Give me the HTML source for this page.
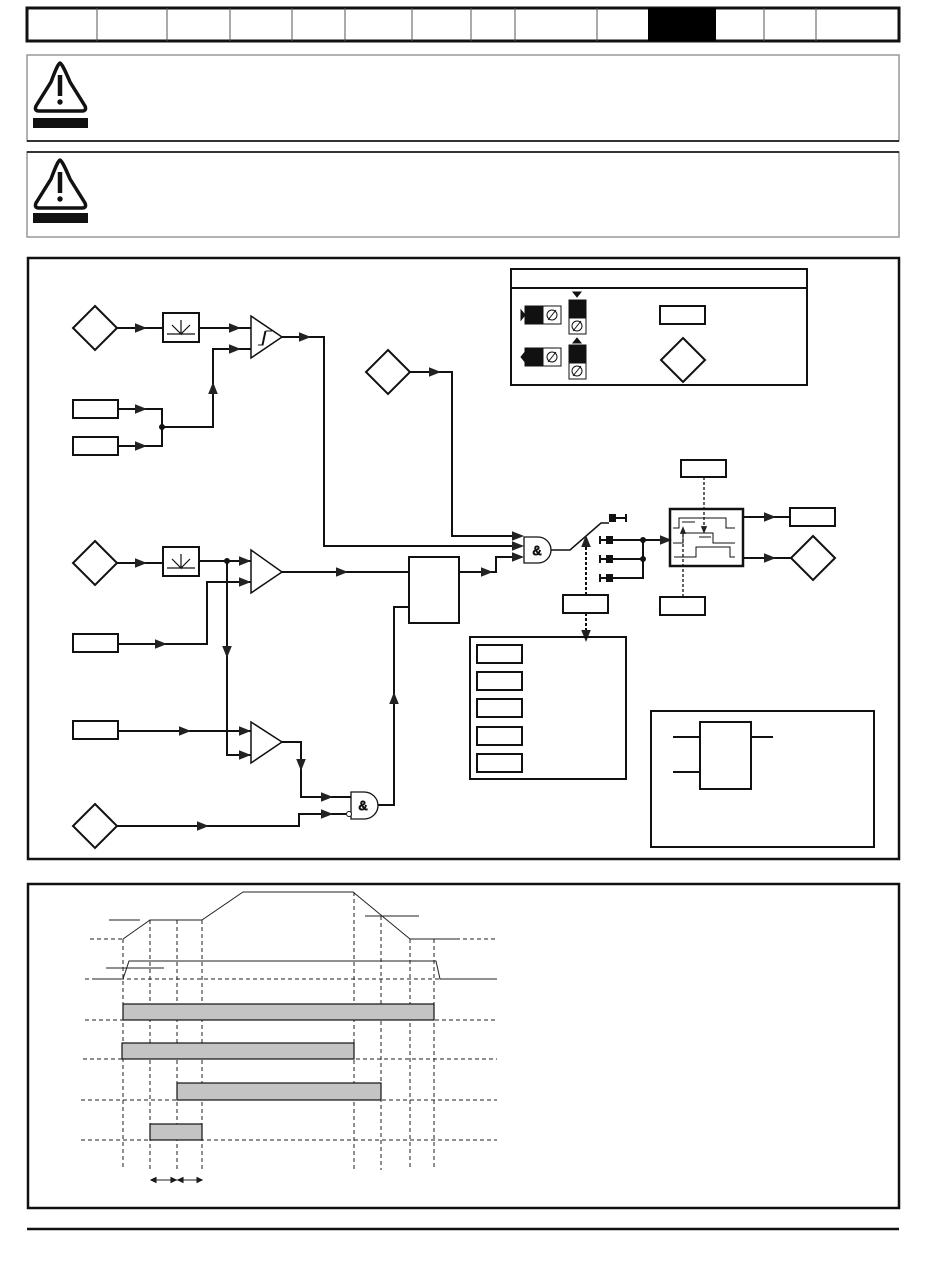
<!DOCTYPE html>
<html><head><meta charset="utf-8"><style>html,body{margin:0;padding:0;background:#fff}svg{display:block}</style></head>
<body>
<svg width="950" height="1274" viewBox="0 0 950 1274" xmlns="http://www.w3.org/2000/svg" font-family="Liberation Sans, sans-serif">
<defs>
<marker id="a" viewBox="0 0 10 10" refX="5" refY="5" markerWidth="6" markerHeight="6" orient="auto"><path d="M0,1 L10,5 L0,9 z" fill="#222"/></marker>
</defs>
<g fill="none" stroke="#111">
<!-- header -->
<rect x="27" y="8" width="872" height="33" stroke-width="3"/>
<rect x="648" y="8" width="68" height="33" fill="#000" stroke="none"/>
<g stroke-width="1" stroke="#555">
<line x1="97" y1="8" x2="97" y2="41"/><line x1="167" y1="8" x2="167" y2="41"/><line x1="230" y1="8" x2="230" y2="41"/><line x1="292" y1="8" x2="292" y2="41"/><line x1="345" y1="8" x2="345" y2="41"/><line x1="412" y1="8" x2="412" y2="41"/><line x1="471" y1="8" x2="471" y2="41"/><line x1="515" y1="8" x2="515" y2="41"/><line x1="597" y1="8" x2="597" y2="41"/><line x1="764" y1="8" x2="764" y2="41"/><line x1="816" y1="8" x2="816" y2="41"/>
</g>
<!-- warnings -->
<rect x="27" y="55" width="872" height="86" stroke="#999" stroke-width="1.5"/>
<line x1="27" y1="141" x2="899" y2="141" stroke="#000" stroke-width="1.5"/>
<rect x="27" y="152" width="872" height="85" stroke="#999" stroke-width="1.5"/>
<line x1="27" y1="152" x2="899" y2="152" stroke="#000" stroke-width="1.5"/>
<g stroke-width="3.5" stroke-linejoin="round">
<path d="M60,63 Q62,63 70,82 L85,106 Q87,111 82,111 L39,111 Q34,111 36,106 L51,82 Q58,63 60,63 Z"/>
<path d="M60,160 Q62,160 70,179 L85,203 Q87,208 82,208 L39,208 Q34,208 36,203 L51,179 Q58,160 60,160 Z"/>
</g>
<rect x="33" y="118" width="55" height="10" fill="#111" stroke="none"/>
<rect x="33" y="213" width="55" height="10" fill="#111" stroke="none"/>
<path d="M60,75 L60,96 M60,172 L60,193" stroke-width="4.5"/>
<circle cx="60" cy="102" r="2.7" fill="#111" stroke="none"/><circle cx="60" cy="199" r="2.7" fill="#111" stroke="none"/>

<!-- main block box -->
<rect x="28" y="258" width="871" height="601" stroke-width="2.5"/>

<g stroke-width="2">
<!-- row 1 -->
<path d="M95,306 L117,328 L95,350 L73,328 Z"/>
<line x1="117" y1="328" x2="163" y2="328"/><line x1="117" y1="328" x2="141" y2="328" marker-end="url(#a)"/>
<rect x="163" y="313" width="36" height="29"/>
<path d="M167,334 L195,334 M181,320 L181,334 L172,325 M181,334 L190,325" stroke-width="1.2"/>
<line x1="199" y1="328" x2="251" y2="328"/><line x1="199" y1="328" x2="235" y2="328" marker-end="url(#a)"/>
<path d="M251,316 L282,337 L251,358 Z" stroke-width="1.5"/>
<path d="M258,345 L263,345 L266,331 L272,331 M262,345 L265,331" stroke-width="1"/>
<path d="M282,337 L324,337 L324,546 L522,546"/><line x1="282" y1="337" x2="305" y2="337" marker-end="url(#a)"/>
<rect x="73" y="400" width="45" height="18"/><rect x="73" y="437" width="45" height="18"/>
<path d="M118,409 L162,409 L162,446 L118,446"/>
<line x1="118" y1="409" x2="141" y2="409" marker-end="url(#a)"/><line x1="118" y1="446" x2="141" y2="446" marker-end="url(#a)"/>
<path d="M162,427 L213,427 L213,349 L251,349"/><line x1="213" y1="400" x2="213" y2="388" marker-end="url(#a)"/><line x1="213" y1="349" x2="235" y2="349" marker-end="url(#a)"/>
<circle cx="162" cy="427" r="2" fill="#111"/>
<path d="M388,350 L410,372 L388,394 L366,372 Z"/>
<path d="M410,372 L452,372 L452,536 L522,536"/><line x1="410" y1="372" x2="435" y2="372" marker-end="url(#a)"/>
<!-- row 2 -->
<path d="M95,541 L117,563 L95,585 L73,563 Z"/>
<line x1="117" y1="563" x2="163" y2="563"/><line x1="117" y1="563" x2="141" y2="563" marker-end="url(#a)"/>
<rect x="163" y="547" width="36" height="29"/>
<path d="M167,568 L195,568 M181,554 L181,568 L172,559 M181,568 L190,559" stroke-width="1.2"/>
<line x1="199" y1="561" x2="251" y2="561"/><line x1="227" y1="561" x2="245" y2="561" marker-end="url(#a)"/>
<circle cx="227" cy="561" r="2" fill="#111"/>
<path d="M251,550 L282,572 L251,593 Z" stroke-width="1.5"/>
<rect x="73" y="634" width="45" height="18"/>
<path d="M118,644 L207,644 L207,582 L251,582"/><line x1="118" y1="644" x2="161" y2="644" marker-end="url(#a)"/><line x1="207" y1="582" x2="245" y2="582" marker-end="url(#a)"/>
<path d="M227,561 L227,755 L251,755"/><line x1="227" y1="600" x2="227" y2="652" marker-end="url(#a)"/><line x1="227" y1="755" x2="245" y2="755" marker-end="url(#a)"/>
<path d="M251,722 L282,742 L251,763 Z" stroke-width="1.5"/>
<rect x="73" y="721" width="45" height="18"/>
<line x1="118" y1="731" x2="251" y2="731"/><line x1="118" y1="731" x2="185" y2="731" marker-end="url(#a)"/><line x1="227" y1="731" x2="245" y2="731" marker-end="url(#a)"/>
<path d="M282,742 L301,742 L301,797 L351,797"/><line x1="301" y1="742" x2="301" y2="765" marker-end="url(#a)"/><line x1="301" y1="797" x2="327" y2="797" marker-end="url(#a)"/>
<path d="M95,804 L117,826 L95,848 L73,826 Z"/>
<path d="M117,826 L299,826 L299,814 L346,814"/><line x1="117" y1="826" x2="203" y2="826" marker-end="url(#a)"/><line x1="299" y1="814" x2="327" y2="814" marker-end="url(#a)"/>
<path d="M351,792 L364,792 A14,13.5 0 0 1 364,819 L351,819 Z" stroke-width="1.3"/>
<circle cx="349" cy="814" r="2.5" stroke-width="1" fill="#fff"/>
<path d="M378,805 L394,805 L394,607 L409,607"/><line x1="394" y1="710" x2="394" y2="698" marker-end="url(#a)"/>
<line x1="282" y1="572" x2="409" y2="572"/><line x1="282" y1="572" x2="342" y2="572" marker-end="url(#a)"/>
<rect x="409" y="557" width="50" height="66"/>
<path d="M459,572 L496,572 L496,557 L522,557"/><line x1="459" y1="572" x2="487" y2="572" marker-end="url(#a)"/>
<line x1="500" y1="536" x2="518" y2="536" marker-end="url(#a)"/><line x1="500" y1="546" x2="518" y2="546" marker-end="url(#a)"/><line x1="500" y1="557" x2="518" y2="557" marker-end="url(#a)"/>
<!-- AND -->
<path d="M524,537 L538,537 A13,13 0 0 1 538,563 L524,563 Z" stroke-width="1.3"/>
<!-- switch -->
<path d="M551,550 L570,550 L601,523 L609,523" stroke-width="1.5"/>
<rect x="609" y="514" width="7" height="8" fill="#111" stroke="none"/>
<line x1="616" y1="518" x2="626" y2="518"/><line x1="626" y1="514" x2="626" y2="522"/>
<line x1="600" y1="536" x2="600" y2="544"/><rect x="606" y="536" width="7" height="8" fill="#111" stroke="none"/>
<line x1="600" y1="555" x2="600" y2="563"/><rect x="606" y="555" width="7" height="8" fill="#111" stroke="none"/>
<line x1="600" y1="574" x2="600" y2="582"/><rect x="606" y="574" width="7" height="8" fill="#111" stroke="none"/>
<path d="M600,540 L670,540 M600,559 L643,559 M600,578 L643,578 L643,540"/>
<line x1="643" y1="540" x2="666" y2="540" marker-end="url(#a)"/>
<circle cx="643" cy="540" r="2" fill="#111"/><circle cx="643" cy="559" r="2" fill="#111"/>
<rect x="563" y="595" width="45" height="18"/>
<line x1="586" y1="595" x2="586" y2="541" stroke-dasharray="3,2" marker-end="url(#a)"/>
<line x1="586" y1="613" x2="586" y2="636" stroke-dasharray="3,2" marker-end="url(#a)"/>
<!-- timer -->
<rect x="670" y="509" width="73" height="57" stroke-width="2.5"/>
<g stroke-width="1">
<path d="M673,528 L679,528 L679,518 L726,518 L726,528 L735,528"/>
<path d="M673,543 L683,543 L683,533 L713,533 L713,543 L735,543"/>
<path d="M674,557 L696,557 L696,547 L730,547 L730,557 L735,557"/>
<path d="M682,522 L695,522 M699,537 L711,537"/>
</g>
<rect x="681" y="460" width="45" height="17"/>
<line x1="704" y1="477" x2="704" y2="530" stroke-dasharray="3,2" stroke-width="1.3" marker-end="url(#a)"/>
<rect x="660" y="597" width="45" height="18"/>
<line x1="683" y1="597" x2="683" y2="530" stroke-dasharray="3,2" stroke-width="1.3" marker-end="url(#a)"/>
<path d="M743,517 L790,517 M743,558 L791,558"/>
<line x1="743" y1="517" x2="770" y2="517" marker-end="url(#a)"/><line x1="743" y1="558" x2="770" y2="558" marker-end="url(#a)"/>
<rect x="790" y="508" width="45" height="18"/>
<path d="M813,536 L835,558 L813,580 L791,558 Z"/>
<!-- legend -->
<rect x="511" y="269" width="296" height="116"/>
<line x1="511" y1="288" x2="807" y2="288"/>
<rect x="660" y="306" width="45" height="18"/>
<path d="M683,338 L705,360 L683,382 L661,360 Z"/>
<!-- list -->
<rect x="470" y="637" width="156" height="142"/>
<rect x="477" y="645" width="45" height="18"/><rect x="477" y="672" width="45" height="18"/><rect x="477" y="699" width="45" height="18"/><rect x="477" y="727" width="45" height="18"/><rect x="477" y="754" width="45" height="18"/>
<!-- key -->
<rect x="651" y="711" width="223" height="136"/>
<rect x="700" y="722" width="51" height="67"/>
<path d="M673,737 L700,737 M673,772 L700,772 M751,737 L773,737"/>
</g>
<!-- legend symbols -->
<g stroke="#111" stroke-width="1">
<rect x="525" y="306" width="18" height="18" fill="#111"/><rect x="543" y="306" width="18" height="18" fill="#fff"/>
<rect x="525" y="348" width="18" height="18" fill="#111"/><rect x="543" y="348" width="18" height="18" fill="#fff"/>
<rect x="569" y="300" width="17" height="18" fill="#111"/><rect x="569" y="318" width="17" height="16" fill="#fff"/>
<rect x="569" y="345" width="17" height="18" fill="#111"/><rect x="569" y="363" width="17" height="16" fill="#fff"/>
<g fill="none"><circle cx="552" cy="315" r="5"/><circle cx="552" cy="357" r="5"/><circle cx="577" cy="326" r="5"/><circle cx="577" cy="371" r="5"/>
<path d="M548,320 L556,310 M548,362 L556,352 M573,331 L581,321 M573,376 L581,366"/></g>
</g>
<path d="M521,310 L525,315 L521,320 Z M525,352 L521,357 L525,362 Z M573,292 L581,292 L577,297 Z M573,343 L581,343 L577,338 Z" fill="#111"/>
<text x="537" y="555" font-size="13" fill="#111" text-anchor="middle">&amp;</text>
<text x="363" y="810" font-size="13" fill="#111" text-anchor="middle">&amp;</text>
<text x="612.5" y="521" font-size="7" fill="#fff" text-anchor="middle">0</text>
<text x="609.5" y="543" font-size="7" fill="#fff" text-anchor="middle">1</text>

<!-- timing box -->
<rect x="28" y="884" width="871" height="324" fill="none" stroke="#111" stroke-width="2.5"/>
<g fill="none" stroke="#222" stroke-width="1">
<g stroke-dasharray="4,3">
<line x1="123" y1="939" x2="123" y2="1170"/><line x1="150" y1="920" x2="150" y2="1170"/><line x1="177" y1="920" x2="177" y2="1170"/><line x1="202" y1="920" x2="202" y2="1170"/><line x1="354" y1="892" x2="354" y2="1170"/><line x1="381" y1="916" x2="381" y2="1170"/><line x1="410" y1="939" x2="410" y2="1170"/><line x1="434" y1="939" x2="434" y2="1170"/>
<line x1="90" y1="939" x2="123" y2="939"/><line x1="456" y1="939" x2="497" y2="939"/>
<line x1="85" y1="979" x2="497" y2="979"/>
<line x1="85" y1="1020" x2="497" y2="1020"/><line x1="83" y1="1059" x2="497" y2="1059"/><line x1="81" y1="1100" x2="497" y2="1100"/><line x1="81" y1="1140" x2="497" y2="1140"/>
</g>
<path d="M123,939 L150,920 L202,920 L243,892 L353,892 L410,939 L456,939"/>
<path d="M109,920 L140,920 M365,916 L419,916 M106,968 L164,968 M93,979 L123,979"/>
<path d="M123,979 L129,961 L436,961 L440,979 L497,979"/>
<path d="M151,1180 L202,1180"/>
</g>
<path d="M151,1180 L156,1177.5 L156,1182.5 Z M176,1180 L171,1177.5 L171,1182.5 Z M178,1180 L183,1177.5 L183,1182.5 Z M202,1180 L197,1177.5 L197,1182.5 Z" fill="#222"/>
<g fill="#c4c4c4" stroke="#111" stroke-width="1.2">
<rect x="123" y="1004" width="311" height="16"/><rect x="122" y="1043" width="232" height="16"/><rect x="177" y="1083" width="204" height="17"/><rect x="150" y="1124" width="52" height="16"/>
</g>
<line x1="27" y1="1229" x2="899" y2="1229" stroke="#111" stroke-width="2.5"/>
</svg>
</body></html>
